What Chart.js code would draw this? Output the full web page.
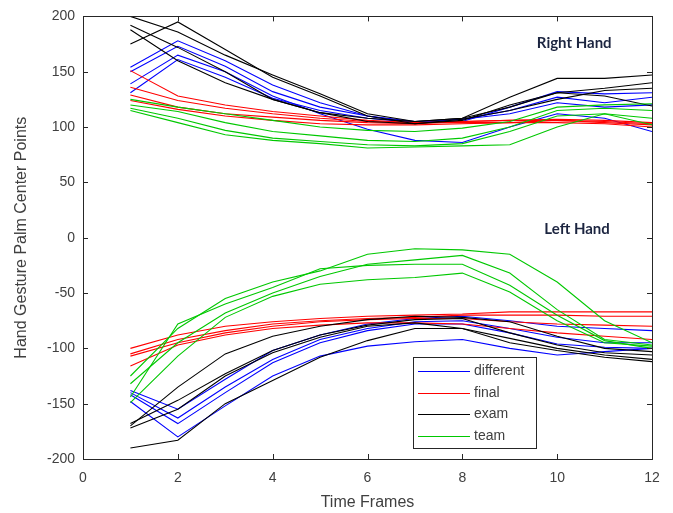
<!DOCTYPE html>
<html>
<head>
<meta charset="utf-8">
<script src="https://cdn.jsdelivr.net/npm/chart.js@4/dist/chart.umd.min.js"></script>
<style>
html,body{margin:0;padding:0;background:#fff;}
canvas{display:block;}
</style>
</head>
<body>
<canvas id="c" width="673" height="513"></canvas>
<script>
const frames = [1,2,3,4,5,6,7,8,9,10,11,12];
const seriesNames = ["different","final","exam","team"];
const xTicks = [0,2,4,6,8,10,12];
const yTicks = [-200,-150,-100,-50,0,50,100,150,200];

// Right hand
const differentRight = [
  [154,178,160,138,122,110,104,105,118,132,130,131],
  [150,173,155,132,118,110,105,107,115,127,122,127],
  [139,165,150,128,112,98,88,86,100,112,108,96],
  [131,161,145,126,115,108,104,107,112,122,118,120]
];
const finalRight = [
  [151,128,120,114,110,106,104,104,104,104,103,100],
  [136,124,117,112,108,105,104,105,106,106,104,102],
  [129,118,112,109,106,104,103,105,106,107,106,104],
  [124,116,110,106,103,102,102,103,104,106,105,103]
];
const examRight = [
  [200,186,165,147,130,112,105,108,127,144,144,147],
  [175,195,170,145,128,110,103,106,120,131,135,140],
  [192,172,150,125,113,105,103,107,115,125,133,135],
  [188,160,140,125,113,108,105,108,118,131,128,119]
];
const teamRight = [
  [125,118,112,106,100,97,96,99,105,118,120,121],
  [120,114,104,96,92,88,87,90,100,115,117,115],
  [117,108,97,90,87,84,83,85,96,110,112,108],
  [115,104,93,88,85,81,82,83,84,100,112,102]
];
// Left hand
const differentLeft = [
  [-138,-155,-128,-102,-88,-78,-73,-71,-75,-80,-82,-84],
  [-140,-163,-135,-110,-92,-82,-76,-75,-82,-90,-95,-95],
  [-142,-168,-140,-113,-95,-84,-78,-78,-86,-96,-99,-100],
  [-148,-180,-152,-125,-107,-98,-94,-92,-100,-106,-103,-100]
];
const finalLeft = [
  [-100,-88,-80,-76,-73,-71,-70,-69,-67,-67,-67,-67],
  [-105,-92,-84,-78,-75,-73,-72,-70,-70,-70,-71,-71],
  [-107,-95,-86,-80,-76,-74,-73,-73,-76,-78,-79,-80],
  [-116,-97,-88,-82,-79,-77,-77,-78,-82,-86,-89,-92]
];
const examLeft = [
  [-170,-135,-105,-89,-80,-74,-71,-72,-76,-89,-100,-103],
  [-168,-147,-123,-102,-88,-79,-74,-73,-86,-97,-104,-106],
  [-172,-155,-125,-104,-90,-80,-77,-82,-91,-100,-106,-110],
  [-190,-183,-150,-129,-108,-93,-82,-82,-95,-102,-108,-112]
];
const teamLeft = [
  [-125,-82,-55,-40,-30,-15,-10,-11,-15,-40,-75,-95],
  [-132,-95,-68,-50,-35,-24,-20,-16,-32,-65,-92,-97],
  [-144,-78,-60,-45,-28,-25,-24,-24,-43,-70,-93,-100],
  [-149,-107,-72,-53,-42,-38,-36,-32,-49,-75,-95,-98]
];

const colors = {different:"#0000ff", final:"#ff0000", exam:"#000000", team:"#00c800"};
const orderOf = {different:3, final:2, exam:1, team:0};
const groups = [
  ["different", differentRight.concat(differentLeft)],
  ["final", finalRight.concat(finalLeft)],
  ["exam", examRight.concat(examLeft)],
  ["team", teamRight.concat(teamLeft)]
];
const datasets = [];
groups.forEach(([name, lines]) => {
  lines.forEach(vals => {
    datasets.push({
      label: name,
      data: vals.map((v,i)=>({x:frames[i], y:v})),
      borderColor: colors[name],
      backgroundColor: colors[name],
      borderWidth: 1.1,
      pointRadius: 0,
      tension: 0,
      fill: false,
      order: orderOf[name]
    });
  });
});

const axisColor = "#262626";
const textColor = "#404040";

const boxPlugin = {
  id: "boxPlugin",
  afterDatasetsDraw(chart) {
    const {ctx, chartArea: a, scales: {x, y}} = chart;
    ctx.save();
    ctx.strokeStyle = axisColor;
    ctx.lineWidth = 1;
    ctx.strokeRect(Math.round(a.left)+0.5, Math.round(a.top)+0.5, Math.round(a.right-a.left), Math.round(a.bottom-a.top));
    const tl = 5;
    ctx.beginPath();
    xTicks.forEach(t => {
      const px = Math.round(x.getPixelForValue(t))+0.5;
      ctx.moveTo(px, a.bottom); ctx.lineTo(px, a.bottom - tl);
      ctx.moveTo(px, a.top); ctx.lineTo(px, a.top + tl);
    });
    yTicks.forEach(t => {
      const py = Math.round(y.getPixelForValue(t))+0.5;
      ctx.moveTo(a.left, py); ctx.lineTo(a.left + tl, py);
      ctx.moveTo(a.right, py); ctx.lineTo(a.right - tl, py);
    });
    ctx.stroke();

    // annotations
    ctx.fillStyle = "#1c2540";
    ctx.font = "bold 15px Lato, 'Open Sans', sans-serif";
    ctx.textAlign = "center";
    ctx.textBaseline = "middle";
    ctx.fillText("Right Hand", x.getPixelForValue(10.36), y.getPixelForValue(176));
    ctx.fillText("Left Hand", x.getPixelForValue(10.42), y.getPixelForValue(7.5));

    // legend
    const L = 413, T = 357, R = 536, B = 448;
    ctx.fillStyle = "#ffffff";
    ctx.fillRect(L, T, R-L, B-T);
    ctx.strokeStyle = axisColor;
    ctx.strokeRect(L+0.5, T+0.5, R-L, B-T);
    ctx.font = "14px 'Liberation Sans', Arial, sans-serif";
    ctx.textAlign = "left";
    ctx.textBaseline = "middle";
    seriesNames.forEach((n, i) => {
      const cy = Math.round(371 + i*21.5) + 0.5;
      ctx.strokeStyle = colors[n];
      ctx.beginPath();
      ctx.moveTo(418, cy); ctx.lineTo(470, cy);
      ctx.stroke();
      ctx.fillStyle = textColor;
      ctx.fillText(n, 474, cy);
    });
    ctx.restore();
  }
};

new Chart(document.getElementById("c"), {
  type: "line",
  data: { datasets },
  options: {
    responsive: false,
    animation: false,
    devicePixelRatio: 1,
    layout: { padding: { top: 12, right: 21, left: 0, bottom: 0 } },
    plugins: { legend: { display: false }, tooltip: { enabled: false } },
    scales: {
      x: {
        type: "linear", min: 0, max: 12,
        afterFit(s) { s.height = 54; },
        afterBuildTicks(s) { s.ticks = xTicks.map(v => ({value: v})); },
        grid: { display: false, drawTicks: false },
        border: { display: false },
        ticks: { color: textColor, font: { size: 14, family: "'Liberation Sans', Arial, sans-serif" }, padding: 11, maxRotation: 0 },
        title: { display: true, text: "Time Frames", color: textColor, font: { size: 16, family: "'Liberation Sans', Arial, sans-serif" }, padding: { top: 0, bottom: 1 } }
      },
      y: {
        type: "linear", min: -200, max: 200,
        afterFit(s) { s.width = 83; },
        afterBuildTicks(s) { s.ticks = yTicks.map(v => ({value: v})); },
        grid: { display: false, drawTicks: false },
        border: { display: false },
        ticks: { color: textColor, font: { size: 14, family: "'Liberation Sans', Arial, sans-serif" }, padding: 8 },
        title: { display: true, text: "Hand Gesture Palm Center Points", color: textColor, font: { size: 16, family: "'Liberation Sans', Arial, sans-serif" }, padding: { top: 12, bottom: 0 } }
      }
    }
  },
  plugins: [boxPlugin]
});
</script>
</body>
</html>
